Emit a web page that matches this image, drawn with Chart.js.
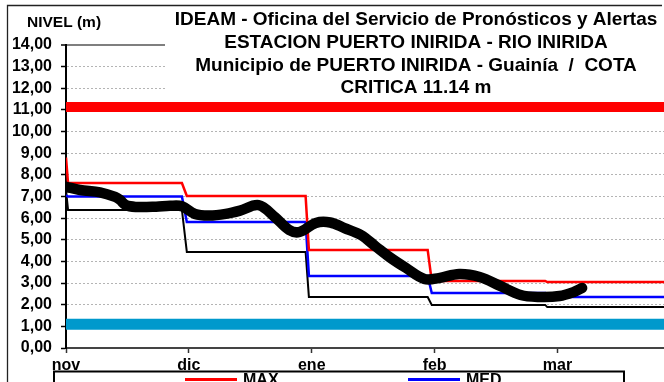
<!DOCTYPE html>
<html>
<head>
<meta charset="utf-8">
<script src="https://cdn.jsdelivr.net/npm/chart.js@4/dist/chart.umd.min.js"></script>
<style>
  html, body { margin: 0; padding: 0; background: #fff; }
  #wrap { width: 664px; height: 382px; }
</style>
</head>
<body>
<div id="wrap"><canvas id="c" width="664" height="382"></canvas></div>
<script>
// Month ticks along the x axis (30 day units per month)
const monthLabels = ['nov', 'dic', 'ene', 'feb', 'mar'];
const monthTicks = [0, 30, 60, 90, 120];
const xEnd = 146;

// Observed water level (m)
const levelDays = [0, 3.4, 8.3, 12, 13.2, 14.6, 17, 22, 25.4, 28.3, 31.5, 35, 39, 42.5, 47, 51, 54.5, 57,
  61, 64.5, 68, 72, 75.5, 79, 83, 87.5, 91, 96, 101, 106, 111, 115.5, 120.5, 124, 126];
const levels = [7.45, 7.3, 7.19, 6.98, 6.84, 6.6, 6.52, 6.53, 6.57, 6.55, 6.19, 6.12, 6.2, 6.35, 6.6, 6.05, 5.45, 5.36,
  5.78, 5.8, 5.54, 5.22, 4.71, 4.2, 3.7, 3.19, 3.23, 3.42, 3.28, 2.87, 2.45, 2.36, 2.4, 2.59, 2.77];

// Monthly historic MAX / MED / MIN (stepped)
const stepDays = [0, 0.5, 28.3, 29.5, 58.5, 59.3, 88.3, 89.3, 117, 117.5, 146];
const maxLevels = [8.8, 7.62, 7.62, 7.02, 7.02, 4.53, 4.53, 3.1, 3.1, 3.05, 3.05];
const medLevels = [7.05, 7.0, 7.0, 5.82, 5.82, 3.33, 3.33, 2.54, 2.54, 2.36, 2.36];
const minLevels = [7.3, 6.38, 6.38, 4.44, 4.44, 2.36, 2.36, 1.99, 1.99, 1.89, 1.89];

// Reference levels
const criticalLevel = 11.14;
const lowLevel = 1.1;

// Header text
const titleLines = [
  'IDEAM - Oficina del Servicio de Pronósticos y Alertas',
  'ESTACION PUERTO INIRIDA - RIO INIRIDA',
  'Municipio de PUERTO INIRIDA - Guainía  /  COTA',
  'CRITICA 11.14 m'
];
const yTitle = 'NIVEL (m)';

const FONT = "'Liberation Sans', Arial, sans-serif";

const pairs = (xs, ys) => xs.map((x, i) => ({ x, y: ys[i] }));
const flat = (v) => [{ x: 0, y: v }, { x: xEnd, y: v }];

const frame = {
  id: 'frame',
  beforeDraw(chart) {
    const ctx = chart.ctx;
    ctx.save();
    ctx.fillStyle = '#fff';
    ctx.fillRect(0, 0, chart.width, chart.height);
    ctx.strokeStyle = '#222';
    ctx.lineWidth = 1.3;
    ctx.beginPath();
    ctx.moveTo(7.5, chart.height + 2);
    ctx.lineTo(7.5, 5.5);
    ctx.lineTo(chart.width - 2, 5.5);
    ctx.stroke();
    ctx.restore();
  },
  beforeDatasetsDraw(chart) {
    // white panel behind the header text
    const ctx = chart.ctx;
    ctx.save();
    ctx.fillStyle = '#fff';
    ctx.fillRect(165, 7, chart.width - 165, 93);
    ctx.restore();
  },
  afterDraw(chart) {
    const ctx = chart.ctx;
    ctx.save();
    ctx.fillStyle = '#000';
    ctx.textBaseline = 'middle';
    ctx.textAlign = 'center';
    ctx.font = 'bold 19px ' + FONT;
    const ys = [20, 43, 66, 88];
    titleLines.forEach((t, i) => ctx.fillText(t, 416, ys[i]));
    ctx.textAlign = 'left';
    ctx.font = 'bold 15.5px ' + FONT;
    ctx.fillText(yTitle, 27, 23);

    // legend box
    ctx.fillStyle = '#fff';
    ctx.fillRect(54, 371, 570, 20);
    ctx.strokeStyle = '#000';
    ctx.lineWidth = 2;
    ctx.strokeRect(54, 371.5, 570, 30);
    const items = [
      { ds: chart.data.datasets[1], x: 185 },
      { ds: chart.data.datasets[2], x: 408 }
    ];
    ctx.font = 'bold 16px ' + FONT;
    items.forEach(it => {
      ctx.strokeStyle = it.ds.borderColor;
      ctx.lineWidth = 3;
      ctx.beginPath();
      ctx.moveTo(it.x, 379.5);
      ctx.lineTo(it.x + 52, 379.5);
      ctx.stroke();
      ctx.fillStyle = '#000';
      ctx.textBaseline = 'alphabetic';
      ctx.fillText(it.ds.label, it.x + 58, 385);
    });
    ctx.restore();
  }
};

new Chart(document.getElementById('c'), {
  type: 'line',
  data: {
    datasets: [
      { label: 'NIVEL', data: pairs(levelDays, levels), borderColor: '#000', borderWidth: 10.5,
        tension: 0.35, borderCapStyle: 'round', borderJoinStyle: 'round', pointRadius: 0 },
      { label: 'MAX', data: pairs(stepDays, maxLevels), borderColor: '#ff0000', borderWidth: 2.5, tension: 0, pointRadius: 0 },
      { label: 'MED', data: pairs(stepDays, medLevels), borderColor: '#0000ff', borderWidth: 2.5, tension: 0, pointRadius: 0 },
      { label: 'MIN', data: pairs(stepDays, minLevels), borderColor: '#000', borderWidth: 2, tension: 0, pointRadius: 0 },
      { label: 'COTA CRITICA', data: flat(criticalLevel), borderColor: '#ff0000', borderWidth: 10, pointRadius: 0 },
      { label: 'COTA MINIMA', data: flat(lowLevel), borderColor: '#0099cc', borderWidth: 11, pointRadius: 0 }
    ]
  },
  options: {
    responsive: false,
    animation: false,
    events: [],
    layout: { padding: { top: 45, right: 0, bottom: 0, left: 0 } },
    plugins: { legend: { display: false }, title: { display: false }, tooltip: { enabled: false } },
    scales: {
      x: {
        type: 'linear', min: 0, max: xEnd,
        afterBuildTicks: s => { s.ticks = monthTicks.map(v => ({ value: v })); },
        afterFit: s => { s.height = 34; },
        ticks: {
          autoSkip: false, maxRotation: 0, padding: 3, color: '#000',
          font: { family: FONT, size: 16, weight: 'bold' },
          callback: v => { const i = monthTicks.indexOf(v); return i < 0 ? '' : monthLabels[i]; }
        },
        grid: { drawOnChartArea: false, tickLength: 5, tickColor: '#333', tickWidth: 1.5 },
        border: { color: '#444', width: 2 }
      },
      y: {
        min: 0, max: 14,
        afterFit: s => { s.width = 66; },
        ticks: {
          stepSize: 1, autoSkip: false, padding: 9, color: '#000',
          font: { family: FONT, size: 16, weight: 'bold' },
          callback: v => v.toFixed(2).replace('.', ',')
        },
        grid: {
          color: c => (c.tick && c.tick.value === 14) ? '#7f7f7f' : '#b4b4b4',
          lineWidth: c => (c.tick && c.tick.value === 14) ? 2 : 1,
          tickLength: 5, tickColor: '#000', tickWidth: 1.5
        },
        border: {
          color: '#000', width: 2,
          dash: c => (c.tick && c.tick.value === 14) ? [] : [2, 2]
        }
      }
    }
  },
  plugins: [frame]
});
</script>
</body>
</html>
